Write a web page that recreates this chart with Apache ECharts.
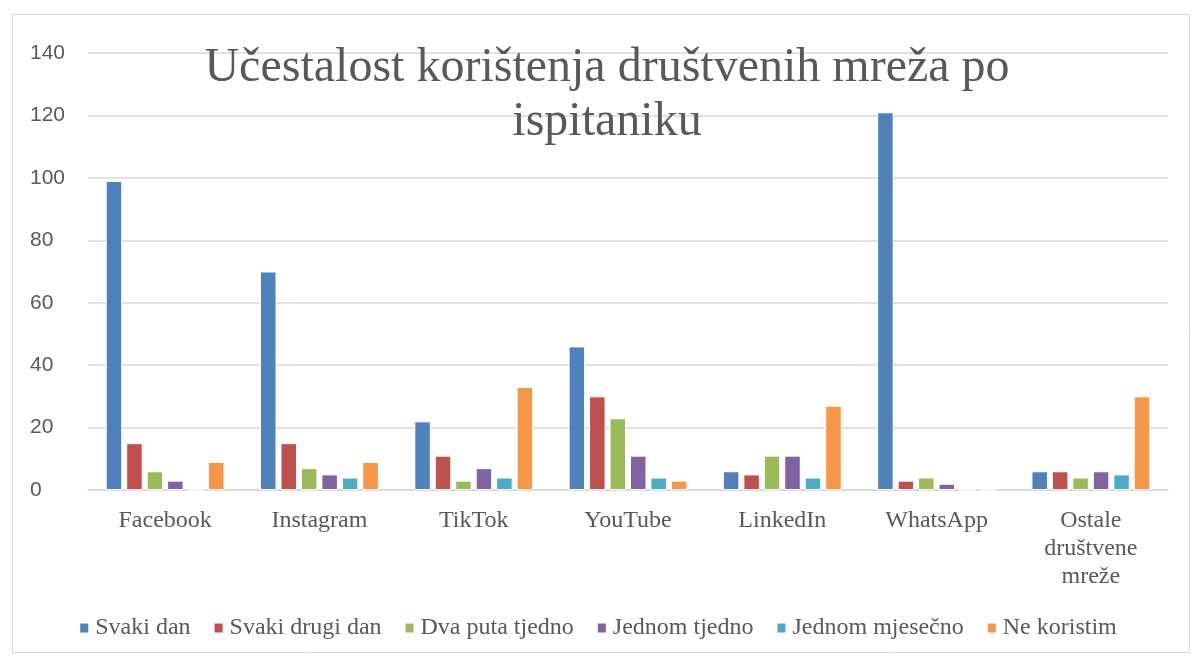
<!DOCTYPE html>
<html><head><meta charset="utf-8">
<script src="https://cdn.jsdelivr.net/npm/echarts@6/dist/echarts.min.js"></script>
<style>html,body{margin:0;padding:0;background:#fff}#c{width:1195px;height:658px}</style>
</head><body><div id="c"></div>
<script>
const categories = ['Facebook','Instagram','TikTok','YouTube','LinkedIn','WhatsApp','Ostale\ndruštvene\nmreže'];
const seriesNames = ['Svaki dan','Svaki drugi dan','Dva puta tjedno','Jednom tjedno','Jednom mjesečno','Ne koristim'];
const svakiDan = [99,70,22,46,6,121,6];
const svakiDrugiDan = [15,15,11,30,5,3,6];
const dvaPutaTjedno = [6,7,3,23,11,4,4];
const jednomTjedno = [3,5,7,11,11,2,6];
const jednomMjesecno = [0,4,4,4,4,0,5];
const neKoristim = [9,9,33,3,27,0,30];
const colors = ['#4F81BD','#C0504D','#9BBB59','#8064A2','#4BACC6','#F79646'];
const allData = [svakiDan,svakiDrugiDan,dvaPutaTjedno,jednomTjedno,jednomMjesecno,neKoristim];
const chart = echarts.init(document.getElementById('c'));
chart.setOption({
  animation:false,
  color:colors,
  graphic:[{type:'rect',left:10,top:12,shape:{width:1177,height:638},style:{fill:'none',stroke:'#d9d9d9',lineWidth:1},z:-1}],
  title:{text:'Učestalost korištenja društvenih mreža po\nispitaniku',left:602,textAlign:'center',top:36,
    textStyle:{fontFamily:'Liberation Serif',fontSize:48,fontWeight:'normal',color:'#595959',lineHeight:54}},
  grid:{left:88,right:27,top:53,bottom:168},
  legend:{top:611,left:'center',itemWidth:10,itemHeight:11,itemGap:22,icon:'rect',
    textStyle:{fontFamily:'Liberation Serif',fontSize:24,color:'#595959',padding:[0,0,0,1]}},
  xAxis:{type:'category',data:categories,
    axisLine:{lineStyle:{color:'#d9d9d9',width:1.5}},axisTick:{show:false},
    axisLabel:{fontFamily:'Liberation Serif',fontSize:24,color:'#595959',lineHeight:28,margin:17,interval:0}},
  yAxis:{type:'value',min:0,max:140,interval:20,
    axisLine:{show:false},axisTick:{show:false},
    splitLine:{lineStyle:{color:'#d9d9d9',width:1.5}},
    axisLabel:{fontFamily:'Liberation Sans',fontSize:21,color:'#595959',align:'left',margin:58}},
  series:seriesNames.map((n,i)=>({name:n,type:'bar',data:allData[i],barGap:'24%',barCategoryGap:'23%',
    itemStyle:{borderColor:'#ffffff',borderWidth:1}}))
});
</script></body></html>
